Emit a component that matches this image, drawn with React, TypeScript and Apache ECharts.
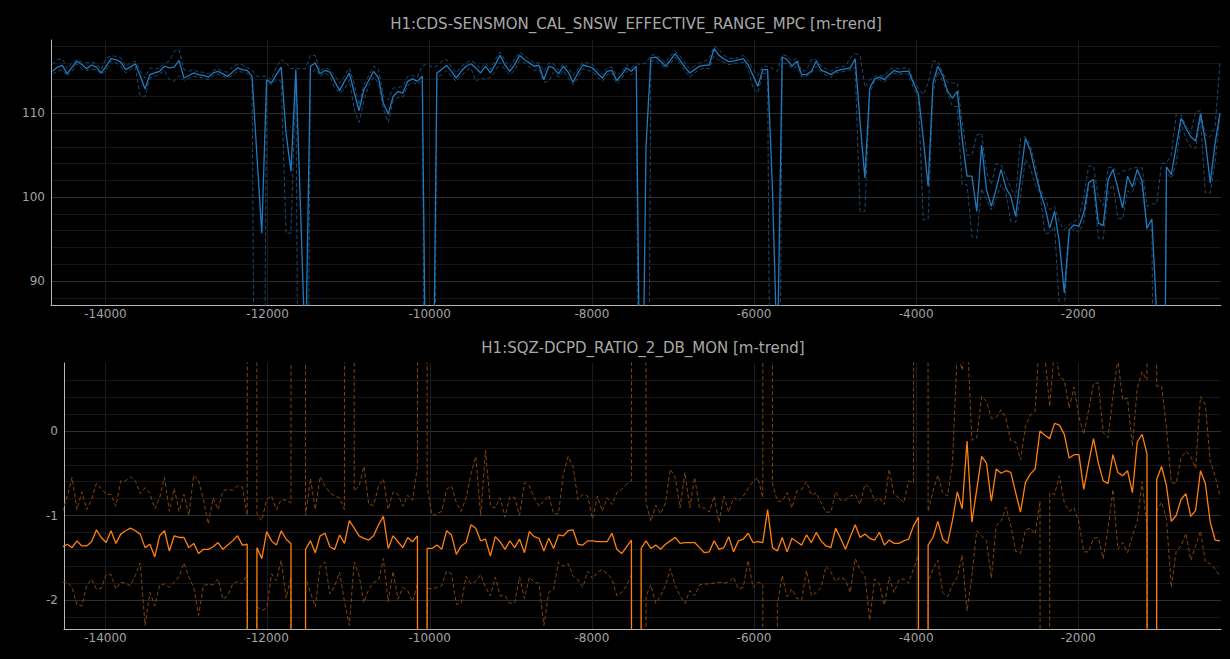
import React, { useEffect, useRef } from "react";
import * as echarts from "echarts";

const TITLE_TOP = "H1:CDS-SENSMON_CAL_SNSW_EFFECTIVE_RANGE_MPC [m-trend]";
const TITLE_BOTTOM = "H1:SQZ-DCPD_RATIO_2_DB_MON [m-trend]";

// minute-trend sample times (seconds, relative)
const T0 = -14652;
const STEP = 60;
const times: number[] = Array.from({ length: 241 }, (_, i) => T0 + STEP * i);
const BOTTOM_OFFSET = 2; // bottom channel starts two samples later

const X_TICKS = [-14000, -12000, -10000, -8000, -6000, -4000, -2000];
const TOP_Y_TICKS = [90, 100, 110];
const TOP_Y_MINOR = [88, 92, 94, 96, 98, 102, 104, 106, 108, 112, 114, 116, 118];
const BOT_Y_TICKS = [-2, -1, 0];
const BOT_Y_MINOR = [-2.2, -1.8, -1.6, -1.4, -1.2, -0.8, -0.6, -0.4, -0.2, 0.2, 0.4, 0.6];

const topMean = [
  115.0, 115.5, 115.7, 114.7, 115.5, 116.2, 115.8, 115.3, 115.75, 115.5,
  114.8, 115.6, 116.5, 116.4, 116.1, 115.2, 115.5, 115.9, 114.5, 112.9,
  114.6, 114.8, 115.0, 115.6, 115.4, 115.5, 116.3, 114.2, 114.5, 114.8,
  114.6, 114.5, 114.3, 114.8, 115.0, 114.7, 114.4, 114.9, 115.4, 115.2,
  115.1, 114.4, 105, 95.7, 114.0, 113.6, 114.6, 115.5, 107.6, 103.1,
  115.2, 98, 80, 115.6, 116.0, 114.7, 115.1, 114.9, 113.8, 112.7,
  113.8, 114.8, 112.5, 110.3, 112.8, 113.9, 115.0, 114.2, 111.2, 109.9,
  112.0, 112.6, 112.4, 113.8, 114.1, 113.8, 114.4, 60, 60, 114.8,
  115.2, 115.7, 115.0, 114.2, 115.0, 115.6, 115.9, 115.4, 114.8, 115.6,
  114.8, 115.8, 116.9, 115.75, 115.0, 115.8, 116.9, 116.4, 116.0, 115.6,
  115.7, 114.0, 115.6, 115.4, 114.7, 115.6, 114.9, 113.7, 114.8, 115.75,
  115.6, 115.4, 114.8, 114.2, 115.0, 115.1, 113.9, 114.6, 115.4, 115.0,
  115.6, 60, 106, 116.6, 116.7, 116.2, 115.6, 116.3, 117.1, 116.3,
  115.5, 114.8, 115.2, 115.6, 115.7, 115.75, 117.7, 116.9, 116.5, 116.15,
  116.2, 116.35, 116.5, 115.75, 114.5, 113.2, 115.2, 115.2, 101, 80,
  116.7, 116.4, 115.6, 116.2, 114.6, 114.6, 115.0, 116.2, 115.15, 114.9,
  114.6, 115.0, 115.2, 115.3, 115.4, 116.5, 109, 102.3, 113.0, 114.1,
  114.3, 114.0, 114.6, 115.1, 114.9, 115.0, 115.0, 113.6, 112.3, 107,
  101.3, 113.6, 115.6, 114.5, 112.6, 111.8, 112.6, 107, 102.5, 102.5,
  98.3, 106.2, 100.9, 98.9, 101.0, 103.3, 101.1, 100.1, 97.7, 102.4,
  107.0, 105.6, 103, 100.7, 98.9, 96.3, 98.3, 94.5, 88.6, 96.1,
  96.7, 96.5, 98.1, 101.7, 102.1, 96.9, 96.6, 102, 103.3, 101.1,
  98.7, 102.5, 101.2, 103.3, 101.9, 96.3, 97.4, 86, 20, 103.6,
  102.7, 106, 109.4, 108.2, 107.2, 106.7, 109.9, 106.7, 101.7, 106.4, 110.0,
];

const topMax = [
  115.8, 116.4, 116.5, 115.3, 116.0, 116.4, 116.1, 116.0, 116.1, 115.9,
  115.2, 116.6, 116.8, 116.8, 116.6, 115.6, 116.0, 116.2, 115.0, 114.2,
  115.4, 115.3, 115.4, 116.0, 116.2, 117.4, 117.6, 115.2, 115.0, 115.2,
  114.9, 114.9, 114.7, 115.1, 115.3, 115.0, 114.9, 115.6, 115.8, 115.8,
  115.4, 115.2, 114.4, 114.4, 114.4, 114.0, 115.5, 116.4, 116.0, 115.3,
  115.4, 115.3, 115.3, 116.9, 116.9, 115.0, 115.4, 115.2, 114.5, 113.6,
  114.4, 115.4, 113.5, 111.0, 113.4, 114.5, 115.6, 115.3, 112.0, 111.6,
  113.0, 113.1, 113.2, 114.4, 114.5, 114.3, 115.7, 115.8, 115.5, 115.6,
  116.2, 116.4, 115.5, 114.8, 115.6, 116.0, 116.3, 115.9, 115.3, 116.0,
  115.2, 116.4, 117.3, 116.3, 115.5, 116.5, 117.3, 116.9, 116.4, 116.0,
  116.0, 115.0, 116.0, 115.9, 115.1, 115.9, 115.4, 114.5, 115.3, 116.1,
  116.0, 115.8, 115.2, 114.6, 115.4, 115.5, 114.5, 115.0, 115.8, 115.4,
  115.9, 115.8, 116.0, 116.9, 117.0, 116.5, 116.0, 116.8, 117.4, 116.8,
  116.0, 115.3, 115.6, 116.0, 116.2, 116.5, 118.0, 117.6, 116.9, 116.6,
  116.5, 116.6, 116.9, 116.3, 115.2, 114.5, 115.6, 115.6, 115.3, 115.0,
  117.0, 116.8, 116.2, 116.6, 115.0, 115.1, 116.4, 116.4, 115.6, 115.3,
  115.0, 115.4, 115.6, 115.6, 116.6, 117.1, 116.9, 113.1, 114.0, 114.4,
  114.5, 114.4, 115.2, 115.4, 115.3, 115.4, 115.4, 113.8, 113.0, 112.2,
  113.6, 116.2, 116.2, 114.8, 113.7, 113.6, 113.6, 109, 105, 105,
  107.4, 107.6, 103, 101.5, 104, 103.8, 102.5, 101.1, 100, 107,
  107.2, 106.2, 104, 101, 99.9, 98.5, 98.9, 97, 96.1, 96.7,
  97.1, 97.5, 100, 103.7, 103.7, 100, 99, 103.5, 103.6, 102.7,
  103.1, 103.2, 103.5, 103.5, 103.5, 98.9, 99.2, 99.2, 104, 104.1,
  105, 109.8, 109.8, 108.5, 107.6, 110.2, 110.3, 107.4, 107.2, 108.4, 116,
];

const topMin = [
  114.7, 115.0, 115.2, 114.4, 115.0, 115.9, 115.3, 115.1, 115.2, 115.2,
  114.6, 115.1, 116.2, 116.0, 115.6, 114.8, 115.2, 115.5, 112.1, 112.0,
  114.2, 114.4, 114.7, 115.1, 114.0, 113.8, 114.5, 113.9, 114.2, 114.4,
  114.3, 114.2, 114.0, 114.5, 114.7, 114.4, 114.2, 114.5, 115.0, 114.9,
  114.8, 114.0, 30, 30, 113.7, 113.4, 114.0, 113.8, 95.7, 95.7,
  114.0, 30, 30, 114.5, 115.3, 114.4, 114.8, 114.4, 113.0, 112.4,
  112.8, 114.0, 110.5, 108.9, 111.5, 113.3, 114.3, 113.6, 110.5, 108.9,
  111.5, 111.9, 111.9, 113.3, 113.7, 113.4, 114.0, 20, 20, 114.2,
  114.6, 115.1, 114.4, 113.8, 114.5, 115.0, 115.4, 113.8, 114.2, 114.0,
  114.3, 115.0, 116.1, 115.2, 114.6, 115.1, 116.3, 116.0, 115.5, 115.1,
  115.2, 113.7, 113.8, 114.9, 114.3, 115.1, 114.2, 113.4, 114.2, 115.3,
  115.1, 115.0, 114.3, 113.8, 114.6, 114.8, 113.5, 114.2, 115.0, 114.6,
  115.2, 20, 20, 116.2, 116.3, 115.8, 115.3, 115.9, 116.7, 115.9,
  115.1, 114.3, 114.8, 115.2, 115.4, 115.3, 116.8, 116.3, 116.1, 115.8,
  115.9, 116.0, 116.1, 115.3, 113.0, 112.4, 114.8, 114.7, 30, 30,
  116.0, 115.9, 115.3, 115.6, 114.3, 114.4, 114.8, 115.6, 114.9, 114.5,
  114.3, 114.8, 114.9, 115.0, 115.2, 115.5, 98.3, 98.3, 112.5, 113.8,
  114.0, 113.7, 114.3, 114.8, 114.6, 114.8, 114.6, 113.0, 112.0, 97.3,
  97.3, 112.5, 115.0, 113.8, 112.4, 110.8, 110.8, 101.5, 101.5, 95.3,
  95.1, 101, 99.7, 98.5, 99.8, 101.5, 100.5, 97.1, 97.0, 100,
  104.5, 103.5, 101.5, 100.5, 95.7, 95.7, 96.5, 86.5, 86.5, 95.5,
  96.3, 95.8, 97, 101.1, 101.3, 95.1, 95.0, 100.5, 101.5, 97.5,
  97.4, 100.7, 100.5, 102.3, 101.3, 96.1, 96.1, 30, 30, 103.0,
  102.2, 104, 108.8, 107, 106, 105.8, 109.4, 100.5, 100.5, 104.2, 109.8,
];

const botMean = [
  -1.37, -1.34, -1.38, -1.30, -1.36, -1.36, -1.31, -1.17, -1.26, -1.32,
  -1.18, -1.33, -1.22, -1.18, -1.15, -1.18, -1.22, -1.38, -1.34, -1.49,
  -1.24, -1.18, -1.42, -1.24, -1.26, -1.26, -1.38, -1.33, -1.45, -1.40,
  -1.40, -1.37, -1.32, -1.40, -1.35, -1.30, -1.24, -1.35, -1.34, -100,
  -1.38, -1.51, -1.19, -1.30, -1.35, -1.18, -1.28, -1.33, -100, -100,
  -1.40, -1.30, -1.44, -1.24, -1.21, -1.37, -1.40, -1.23, -1.33, -1.06,
  -1.15, -1.24, -1.27, -1.29, -1.24, -1.11, -1.01, -1.39, -1.24, -1.31,
  -1.38, -1.26, -1.31, -1.24, -100, -1.39, -1.39, -1.35, -1.40, -1.18,
  -1.23, -1.46, -1.36, -1.32, -1.11, -1.15, -1.30, -1.28, -1.48, -1.25,
  -1.31, -1.40, -1.30, -1.38, -1.28, -1.44, -1.19, -1.25, -1.27, -1.42,
  -1.27, -1.39, -1.23, -1.24, -1.18, -1.17, -1.34, -1.35, -1.30, -1.30,
  -1.31, -1.31, -1.31, -1.21, -1.40, -1.45, -1.37, -1.29, -100, -1.39,
  -1.30, -1.39, -1.35, -1.40, -1.34, -1.30, -1.26, -1.33, -1.32, -1.32,
  -1.32, -1.38, -1.44, -1.43, -1.30, -1.40, -1.38, -1.25, -1.43, -1.30,
  -1.28, -1.21, -1.32, -1.31, -1.32, -0.93, -1.38, -1.42, -1.26, -1.43,
  -1.27, -1.31, -1.35, -1.23, -1.32, -1.20, -1.30, -1.36, -1.38, -1.15,
  -1.27, -1.40, -1.25, -1.11, -1.26, -1.22, -1.27, -1.29, -1.20, -1.35,
  -1.29, -1.33, -1.33, -1.30, -1.28, -1.12, -1.02, -100, -1.35, -1.26,
  -1.07, -1.28, -1.33, -1.06, -0.72, -0.92, -0.12, -1.08, -0.69, -0.30,
  -0.38, -0.83, -0.45, -0.50, -0.47, -0.49, -0.73, -0.96, -0.61, -0.51,
  -0.45, 0.00, -0.05, -0.09, 0.09, 0.07, -0.04, -0.32, -0.28, -0.28,
  -0.69, -0.38, -0.09, -0.38, -0.59, -0.62, -0.28, -0.49, -0.53, -0.47,
  -0.73, -0.13, -0.04, -0.27, -100, -0.57, -0.42, -0.65, -1.07, -1.00,
  -0.81, -0.74, -1.01, -0.94, -0.47, -0.62, -1.08, -1.29, -1.30,
];

const botMax = [
  -0.96, -0.77, -0.55, -0.93, -0.72, -0.93, -0.81, -0.62, -0.68, -0.75,
  -0.75, -0.89, -0.59, -0.59, -0.54, -0.59, -0.74, -0.67, -0.74, -0.92,
  -0.79, -0.55, -0.95, -0.68, -0.95, -0.75, -1.00, -0.52, -0.59, -0.81,
  -1.10, -0.79, -0.93, -0.71, -0.69, -0.70, -0.65, -0.66, -1.00, 100,
  -0.98, -1.06, -0.81, -0.77, -0.93, -0.81, -0.82, -0.85, 100, 100,
  -1.00, -0.56, -0.93, -0.54, -0.65, -0.73, -0.77, -0.79, -0.93, 100,
  -0.71, -0.65, -0.42, -0.87, -0.88, -0.65, -0.57, -0.93, -0.72, -0.75,
  -0.89, -0.76, -0.82, -0.42, 100, -0.65, -1.00, -0.98, -0.95, -0.69,
  -0.65, -0.85, -0.95, -0.79, -0.51, -0.30, -1.00, -0.23, -0.89, -0.91,
  -0.79, -1.02, -0.78, -0.79, -1.00, -0.61, -0.65, -0.79, -0.89, -0.83,
  -0.76, -0.98, -0.98, -0.51, -0.30, -0.42, -0.81, -0.75, -0.77, -1.04,
  -0.77, -0.95, -0.79, -0.87, -0.73, -0.69, -0.63, -0.59, 100, 100,
  -0.85, -1.07, -0.88, -0.98, -0.85, -0.45, -0.55, -0.91, -0.49, -0.91,
  -0.55, -0.91, -0.91, -0.96, -0.77, -1.08, -0.77, -0.96, -0.79, -0.83,
  -0.77, -0.68, -0.60, -0.55, -0.79, 100, -0.62, -0.83, -0.83, -0.73,
  -0.91, -0.71, -0.69, -0.60, -0.76, -0.73, -0.85, -0.96, -0.96, -0.72,
  -0.82, -0.82, -0.77, -0.75, -0.87, -0.63, -0.67, -0.83, -0.79, -0.87,
  -0.45, -0.75, -0.79, -0.85, -0.59, -0.61, 100, 100, -0.95, -0.71,
  -0.52, -0.73, -0.77, -0.38, 0.95, 0.72, 1.2, -0.11, -0.08, 0.41,
  0.35, 0.15, 0.16, 0.25, 0.15, -0.12, -0.13, -0.34, 0.05, 0.19,
  0.23, 1.2, 0.9, 0.29, 1.0, 0.64, 0.60, 0.27, 0.52, 0.17,
  -0.04, 0.25, 0.56, 0.57, -0.02, -0.08, 0.41, 0.85, 0.37, 0.39,
  -0.18, 0.51, 0.70, 0.60, 100, 0.53, 0.53, 0.05, -0.61, -0.62,
  -0.32, -0.24, -0.30, -0.44, 0.41, 0.31, -0.36, -0.53, -0.77,
];

const botMin = [
  -1.79, -1.79, -1.85, -2.06, -2.07, -1.83, -1.75, -1.87, -1.86, -1.70,
  -1.70, -1.87, -1.79, -1.80, -1.83, -1.71, -1.56, -2.30, -1.91, -2.07,
  -1.82, -1.81, -1.85, -1.79, -1.72, -1.56, -1.73, -1.85, -2.18, -1.83,
  -1.81, -1.82, -1.75, -1.99, -1.95, -1.81, -1.78, -1.81, -1.69, -100,
  -2.08, -2.12, -2.10, -1.69, -1.77, -1.53, -1.98, -1.73, -100, -100,
  -1.74, -1.91, -2.08, -1.60, -1.55, -1.93, -1.83, -1.67, -2.02, -2.30,
  -1.55, -1.71, -2.03, -1.87, -1.79, -1.77, -1.51, -2.02, -1.66, -1.99,
  -1.85, -1.89, -2.02, -1.81, -100, -1.86, -1.87, -1.85, -1.83, -1.66,
  -1.69, -2.05, -2.04, -1.72, -1.81, -1.78, -1.70, -1.85, -1.95, -1.73,
  -1.95, -1.95, -2.04, -2.03, -1.73, -1.98, -1.73, -1.79, -1.80, -2.30,
  -1.91, -1.87, -1.55, -1.60, -1.57, -1.72, -1.76, -1.85, -1.66, -1.75,
  -1.67, -1.64, -1.69, -1.75, -1.95, -1.91, -1.83, -1.70, -100, -100,
  -1.95, -1.82, -2.04, -1.95, -1.83, -1.63, -1.83, -1.95, -2.04, -1.89,
  -1.95, -1.82, -1.81, -1.81, -1.80, -1.79, -1.80, -1.79, -1.73, -1.87,
  -1.85, -1.53, -1.85, -1.79, -1.81, -100, -100, -2.05, -1.71, -1.96,
  -1.87, -1.98, -2.00, -1.65, -1.95, -1.91, -1.85, -1.60, -1.67, -1.78,
  -1.73, -1.76, -1.91, -1.51, -1.64, -1.71, -2.24, -1.75, -1.81, -2.06,
  -1.73, -1.91, -1.76, -1.75, -1.80, -1.63, -1.47, -100, -1.79, -1.63,
  -1.53, -1.91, -1.96, -1.82, -1.73, -1.47, -2.13, -1.71, -1.18, -1.24,
  -1.30, -1.74, -1.12, -1.07, -0.90, -1.12, -1.42, -1.45, -1.17, -1.15,
  -1.22, -0.83, -100, -0.73, -0.75, -0.53, -0.85, -0.95, -0.91, -1.08,
  -1.43, -1.43, -1.27, -1.26, -1.51, -1.16, -0.69, -1.40, -1.32, -1.44,
  -1.24, -1.07, -0.60, -1.16, -100, -0.95, -0.84, -1.04, -1.85, -1.42,
  -1.36, -1.21, -1.53, -1.36, -1.18, -1.55, -1.57, -1.63, -1.72,
];

const FONT = "DejaVu Sans";
const LABEL_COLOR = "#a3a3a3";
const AXIS_COLOR = "#b8b8b8";

function pairs(vals: number[], offset: number) {
  return vals.map((v, i) => [times[i + offset], v]);
}

const plainLabel = (v: number) => String(v);

function xAxisCfg(gridIndex: number, min: number, max: number) {
  return {
    type: "value",
    gridIndex,
    min,
    max,
    axisLine: { show: true, onZero: false, lineStyle: { color: AXIS_COLOR, width: 1 } },
    axisTick: { show: false, customValues: X_TICKS },
    axisLabel: {
      customValues: X_TICKS,
      formatter: plainLabel,
      color: LABEL_COLOR,
      fontSize: 12,
      fontFamily: FONT,
      margin: 3,
    },
    splitLine: { show: true, lineStyle: { color: "#1c1c1c", width: 1 } },
  };
}

function yAxisMajor(gridIndex: number, min: number, max: number, ticks: number[]) {
  return {
    type: "value",
    gridIndex,
    min,
    max,
    position: "left",
    axisLine: { show: true, onZero: false, lineStyle: { color: AXIS_COLOR, width: 1 } },
    axisTick: { show: false, customValues: ticks },
    axisLabel: {
      customValues: ticks,
      formatter: plainLabel,
      color: LABEL_COLOR,
      fontSize: 12,
      fontFamily: FONT,
      margin: 6,
    },
    splitLine: { show: true, lineStyle: { color: "#2f2f2f", width: 1 } },
  };
}

function yAxisMinor(gridIndex: number, min: number, max: number, ticks: number[]) {
  return {
    type: "value",
    gridIndex,
    min,
    max,
    position: "left",
    axisLine: { show: false },
    axisTick: { show: false, customValues: ticks },
    axisLabel: { show: false, customValues: ticks },
    splitLine: { show: true, lineStyle: { color: "#161616", width: 1 } },
  };
}

function lineSeries(
  data: number[][],
  xAxisIndex: number,
  yAxisIndex: number,
  color: string,
  width: number,
  dashed: boolean,
  z: number
) {
  return {
    type: "line",
    xAxisIndex,
    yAxisIndex,
    data,
    showSymbol: false,
    symbol: "none",
    silent: true,
    clip: true,
    z,
    lineStyle: { color, width, type: dashed ? [4, 2.5] : "solid" },
  };
}

export default function App() {
  const ref = useRef<HTMLDivElement>(null);

  useEffect(() => {
    if (!ref.current) return;
    const chart = echarts.init(ref.current, undefined, { renderer: "svg" });
    const option: any = {
      animation: false,
      backgroundColor: "#000000",
      textStyle: { fontFamily: FONT },
      graphic: [
        {
          type: "text",
          x: 636,
          y: 24,
          silent: true,
          style: {
            text: TITLE_TOP,
            fill: "#a8a8a8",
            fontSize: 15,
            fontFamily: FONT,
            align: "center",
            verticalAlign: "middle",
          },
        },
        {
          type: "text",
          x: 643,
          y: 348,
          silent: true,
          style: {
            text: TITLE_BOTTOM,
            fill: "#a8a8a8",
            fontSize: 15,
            fontFamily: FONT,
            align: "center",
            verticalAlign: "middle",
          },
        },
      ],
      grid: [
        { left: 51, right: 9, top: 40, height: 265, containLabel: false, outerBoundsMode: "none" },
        { left: 64, right: 9, top: 363, height: 266, containLabel: false, outerBoundsMode: "none" },
      ],
      xAxis: [xAxisCfg(0, -14672, -239), xAxisCfg(1, -14512, -239)],
      yAxis: [
        yAxisMajor(0, 87.14, 118.73, TOP_Y_TICKS),
        yAxisMinor(0, 87.14, 118.73, TOP_Y_MINOR),
        yAxisMajor(1, -2.343, 0.805, BOT_Y_TICKS),
        yAxisMinor(1, -2.343, 0.805, BOT_Y_MINOR),
      ],
      series: [
        lineSeries(pairs(topMax, 0), 0, 0, "#1b4a70", 1, true, 2),
        lineSeries(pairs(topMin, 0), 0, 0, "#1b4a70", 1, true, 2),
        lineSeries(pairs(topMean, 0), 0, 0, "#1f7bbf", 1.3, false, 3),
        lineSeries(pairs(botMax, BOTTOM_OFFSET), 1, 2, "#84440a", 1, true, 2),
        lineSeries(pairs(botMin, BOTTOM_OFFSET), 1, 2, "#84440a", 1, true, 2),
        lineSeries(pairs(botMean, BOTTOM_OFFSET), 1, 2, "#ff800e", 1.3, false, 3),
      ],
    };
    chart.setOption(option);
    return () => chart.dispose();
  }, []);

  return (
    <div
      ref={ref}
      style={{
        position: "fixed",
        left: 0,
        top: 0,
        width: 1230,
        height: 659,
        background: "#000",
      }}
    />
  );
}
